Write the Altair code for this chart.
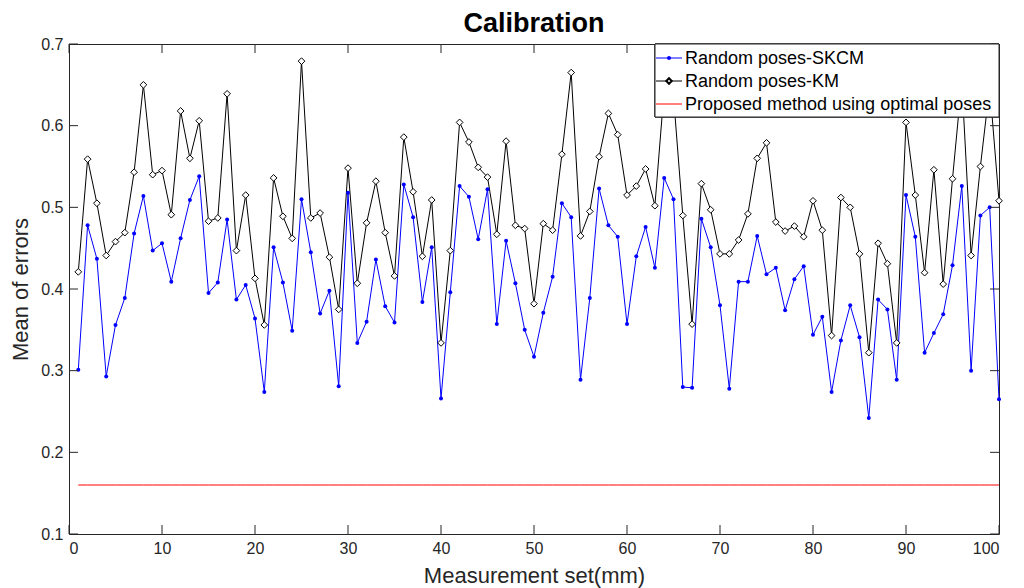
import altair as alt
import pandas as pd

x_vals = list(range(1, 101))

skcm = [0.301, 0.478, 0.437, 0.293, 0.356, 0.389, 0.468, 0.514, 0.447, 0.456,
        0.409, 0.462, 0.509, 0.538, 0.395, 0.408, 0.485, 0.387, 0.405, 0.364,
        0.274, 0.451, 0.408, 0.349, 0.510, 0.445, 0.370, 0.398, 0.281, 0.518,
        0.334, 0.360, 0.436, 0.379, 0.359, 0.528, 0.488, 0.384, 0.451, 0.266,
        0.396, 0.526, 0.513, 0.461, 0.522, 0.357, 0.459, 0.407, 0.350, 0.317,
        0.371, 0.415, 0.505, 0.488, 0.289, 0.389, 0.523, 0.478, 0.464, 0.357,
        0.440, 0.476, 0.426, 0.536, 0.510, 0.280, 0.279, 0.486, 0.451, 0.380,
        0.278, 0.409, 0.409, 0.465, 0.418, 0.426, 0.374, 0.412, 0.428, 0.344,
        0.366, 0.274, 0.337, 0.380, 0.341, 0.242, 0.387, 0.375, 0.289, 0.515,
        0.464, 0.322, 0.346, 0.369, 0.429, 0.526, 0.300, 0.490, 0.500, 0.265]

km = [0.421, 0.559, 0.505, 0.441, 0.458, 0.469, 0.543, 0.650, 0.540, 0.545,
      0.491, 0.618, 0.560, 0.606, 0.483, 0.487, 0.639, 0.447, 0.515, 0.413,
      0.356, 0.536, 0.489, 0.462, 0.679, 0.487, 0.493, 0.439, 0.375, 0.548,
      0.407, 0.481, 0.532, 0.469, 0.416, 0.586, 0.519, 0.440, 0.509, 0.334,
      0.447, 0.604, 0.580, 0.549, 0.537, 0.467, 0.581, 0.478, 0.474, 0.382,
      0.480, 0.472, 0.565, 0.665, 0.465, 0.495, 0.562, 0.615, 0.589, 0.515,
      0.526, 0.547, 0.502, 0.644, 0.636, 0.490, 0.357, 0.529, 0.497, 0.443,
      0.443, 0.460, 0.492, 0.560, 0.579, 0.482, 0.471, 0.477, 0.464, 0.508,
      0.472, 0.343, 0.512, 0.500, 0.443, 0.322, 0.456, 0.431, 0.334, 0.604,
      0.515, 0.420, 0.546, 0.406, 0.535, 0.655, 0.441, 0.550, 0.648, 0.508]

proposed_value = 0.16
x_ticks = [0, 10, 20, 30, 40, 50, 60, 70, 80, 90, 100]
y_ticks = [0.1, 0.2, 0.3, 0.4, 0.5, 0.6, 0.7]
legend_labels = ["Random poses-SKCM", "Random poses-KM",
                 "Proposed method using optimal poses"]

FONT = "Liberation Sans"
W, H = 930, 490

df = pd.DataFrame({"x": x_vals, "skcm": skcm, "km": km,
                   "prop": [proposed_value] * len(x_vals)})
xt = pd.DataFrame({"t": x_ticks})
yt = pd.DataFrame({"t": y_ticks})

xs = alt.Scale(domain=[0, 100], nice=False, zero=False)
ys = alt.Scale(domain=[0.1, 0.7], nice=False, zero=False)

tcol = "#262626"
axis_style = dict(labelFont=FONT, labelFontSize=16, labelColor=tcol,
                  titleFont=FONT, titleFontSize=22, titleFontWeight="normal",
                  titleColor=tcol, tickSize=0, domain=False, grid=False)

X = alt.X("x:Q", scale=xs, title="Measurement set(mm)",
          axis=alt.Axis(values=x_ticks, format="d", labelPadding=6,
                        titlePadding=9, **axis_style))
Y = alt.Y("skcm:Q", scale=ys, title="Mean of errors",
          axis=alt.Axis(values=y_ticks, format=".1f", labelPadding=6,
                        titlePadding=8, **axis_style))

base = alt.Chart(df)

red = base.mark_line(color="#ff0000", strokeWidth=1).encode(
    x=alt.X("x:Q", scale=xs), y=alt.Y("prop:Q", scale=ys))

km_line = base.mark_line(color="black", strokeWidth=1).encode(
    x=alt.X("x:Q", scale=xs), y=alt.Y("km:Q", scale=ys))
km_pts = base.mark_point(shape="diamond", size=45, fill="white", filled=True,
                         stroke="black", strokeWidth=1, opacity=1).encode(
    x=alt.X("x:Q", scale=xs), y=alt.Y("km:Q", scale=ys))

sk_line = base.mark_line(color="#0000ff", strokeWidth=1).encode(x=X, y=Y)
sk_pts = base.mark_circle(color="#0000ff", size=16, opacity=1).encode(
    x=alt.X("x:Q", scale=xs), y=alt.Y("skcm:Q", scale=ys))

xb = alt.Chart(xt).mark_rule(color=tcol).encode(
    x=alt.X("t:Q", scale=xs), y=alt.value(H), y2=alt.value(H - 9))
xtop = alt.Chart(xt).mark_rule(color=tcol).encode(
    x=alt.X("t:Q", scale=xs), y=alt.value(0), y2=alt.value(9))
yl = alt.Chart(yt).mark_rule(color=tcol).encode(
    y=alt.Y("t:Q", scale=ys), x=alt.value(0), x2=alt.value(9))
yr = alt.Chart(yt).mark_rule(color=tcol).encode(
    y=alt.Y("t:Q", scale=ys), x=alt.value(W), x2=alt.value(W - 9))

# legend
lg = pd.DataFrame({"label": legend_labels})
L0, L1 = 586, W
box = alt.Chart(lg).mark_rect(fill="white", stroke=tcol, strokeWidth=1).encode(
    x=alt.value(L0), x2=alt.value(L1), y=alt.value(0), y2=alt.value(73))
rows = [14, 37, 60]
colors = ["#0000ff", "black", "#ff0000"]
leg_layers = [box]
for i, (lab, c, ry) in enumerate(zip(legend_labels, colors, rows)):
    d = alt.Chart(pd.DataFrame({"label": [lab]}))
    leg_layers.append(d.mark_rule(color=c, strokeWidth=1).encode(
        x=alt.value(L0 + 1), x2=alt.value(L0 + 27), y=alt.value(ry)))
    if i == 0:
        leg_layers.append(d.mark_circle(color=c, size=16, opacity=1).encode(
            x=alt.value(L0 + 14), y=alt.value(ry)))
    elif i == 1:
        leg_layers.append(d.mark_point(shape="diamond", size=30, fill="white",
                                       filled=True, stroke="black", opacity=1).encode(
            x=alt.value(L0 + 14), y=alt.value(ry)))
    leg_layers.append(d.mark_text(align="left", baseline="middle", font=FONT,
                                  fontSize=18, color="black").encode(
        x=alt.value(L0 + 30), y=alt.value(ry + 1), text="label:N"))

chart = alt.layer(sk_line, red, km_line, km_pts, sk_pts, xb, xtop, yl, yr,
                  *leg_layers).properties(
    width=W, height=H,
    background="white",
    title=alt.TitleParams("Calibration", font=FONT, fontSize=27,
                          fontWeight="bold", color="black", anchor="middle",
                          offset=-2),
    autosize=alt.AutoSizeParams(type="none"),
    padding={"left": 69, "top": 44, "right": 25, "bottom": 54},
).configure_view(stroke=tcol, strokeWidth=1)

chart.save("out.html", embed_options={"renderer": "svg", "actions": False})
